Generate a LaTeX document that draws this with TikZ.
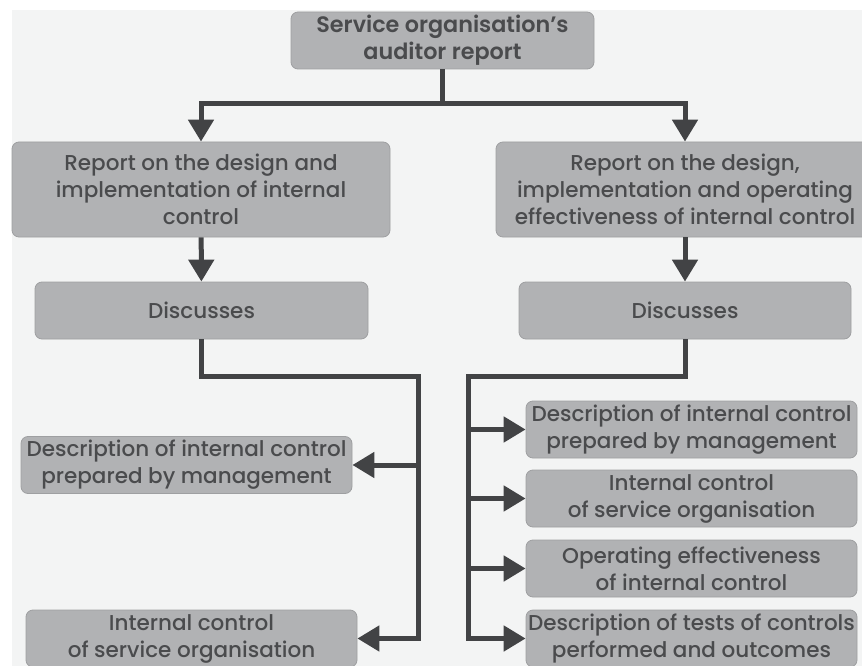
\documentclass[tikz,border=0pt]{standalone}
\usepackage{fontspec}
\setmainfont{Poppins}[UprightFont={* Medium}, BoldFont={* SemiBold}]
\usetikzlibrary{arrows.meta, positioning}
\definecolor{pagegray}{RGB}{243, 244, 244}
\definecolor{boxgray}{RGB}{177, 178, 180}
\definecolor{boxedge}{RGB}{158, 159, 161}
\definecolor{inkgray}{RGB}{74, 75, 77}
\definecolor{linegray}{RGB}{66, 67, 69}
\tikzset{
  box/.style={draw=boxedge, fill=boxgray, rounded corners=7pt, line width=0.8pt,
    text=inkgray, align=center, inner sep=0pt, font=\fontsize{21.5}{27}\selectfont},
  flowline/.style={line width=5pt, linegray},
  flowarrow/.style={-{Triangle[length=22pt, width=25pt]}, line width=5pt, linegray}
}
\begin{document}
\begin{tikzpicture}[x=1pt, y=-1pt]
    \useasboundingbox (0,0) rectangle (862,666);
    \fill[white] (0,0) rectangle (862,666);
    \fill[pagegray] (12,10) rectangle (862,666);

    % --- TOP REPORT ---
    \node[box, minimum width=303pt, minimum height=57pt, font=\fontsize{22.3}{27}\selectfont\bfseries] (top) at (442.5, 40.5) {Service organisation’s\\auditor report};

    % --- TWO KINDS OF REPORT ---
    \node[box, minimum width=378pt, minimum height=95pt] (repA) at (201, 189.5) {Report on the design and\\implementation of internal\\control};
    \node[box, minimum width=378pt, minimum height=95pt] (repB) at (685, 189.5) {Report on the design,\\implementation and operating\\effectiveness of internal control};

    \draw[flowarrow] (top.south) -- ++(0,34) -| (repA.north);
    \draw[flowarrow] (top.south) -- ++(0,34) -| (repB.north);

    % --- DISCUSSES ---
    \node[box, minimum width=333pt, minimum height=57pt] (discA) at (201.5, 310.5) {Discusses};
    \node[box, minimum width=332pt, minimum height=57pt] (discB) at (685, 310.5) {Discusses};

    \draw[flowarrow] (repA) -- (discA);
    \draw[flowarrow] (repB) -- (discB);

    % --- LEFT CONTENTS ---
    \node[box, minimum width=331pt, minimum height=57pt] (descA) at (186.5, 465) {Description of internal control\\prepared by management};
    \node[box, minimum width=331pt, minimum height=57pt] (intA) at (191.5, 638.5) {Internal control\\of service organisation};

    \coordinate (busA) at (418, 376);
    \draw[flowarrow] (discA.south) |- (busA) |- (intA.east);
    \draw[flowarrow] (busA |- descA.east) -- (descA.east);

    % --- RIGHT CONTENTS ---
    \node[box, minimum width=331pt, minimum height=57pt] (descB) at (691.5, 429.5) {Description of internal control\\prepared by management};
    \node[box, minimum width=331pt, minimum height=57pt] (intB) at (691.5, 498.5) {Internal control\\of service organisation};
    \node[box, minimum width=331pt, minimum height=57pt] (operB) at (691.5, 568.5) {Operating effectiveness\\of internal control};
    \node[box, minimum width=331pt, minimum height=57pt] (testB) at (691.5, 638.5) {Description of tests of controls\\performed and outcomes};

    \coordinate (busB) at (468, 376);
    \draw[flowarrow] (discB.south) |- (busB) |- (testB.west);
    \foreach \n in {descB, intB, operB}
        \draw[flowarrow] (busB |- \n.west) -- (\n.west);
\end{tikzpicture}
\end{document}
